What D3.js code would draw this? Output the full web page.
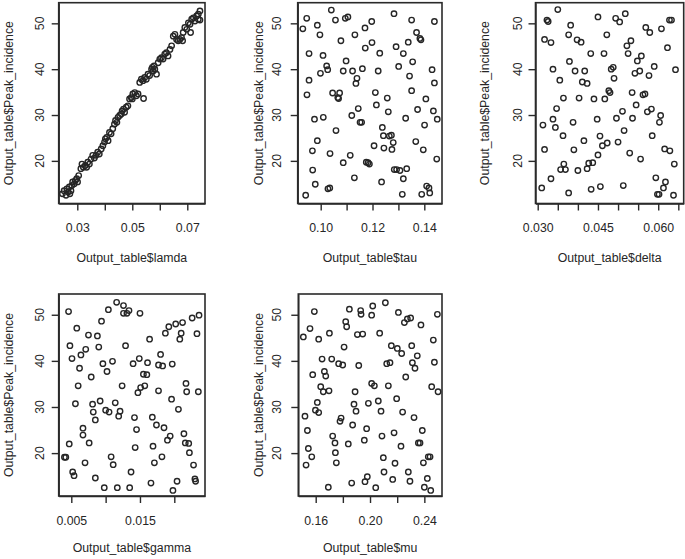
<!DOCTYPE html>
<html><head><meta charset="utf-8">
<script src="https://cdn.jsdelivr.net/npm/d3@7"></script>
<style>
body{margin:0;background:#fff}
svg{display:block}
text{font-family:"Liberation Sans",Arial,Helvetica,sans-serif;fill:#262626}
</style>
</head><body>
<svg id="chart" width="685" height="559"></svg>
<script>
// ---- data ----
const yLabel = "Output_table$Peak_incidence";
const yTicks = [20, 30, 40, 50];
const yDomain = [10.7, 54.5];

const lamdaPts = [[0.0246,12.8],[0.0252,13.5],[0.0259,12.5],[0.0262,13.9],[0.0267,13.2],[0.0271,14.3],[0.0273,12.8],[0.0277,13.5],[0.0280,14.6],[0.0283,15.4],
[0.0289,15.0],[0.0293,15.7],[0.0298,16.1],[0.0301,15.4],[0.0305,16.8],[0.0313,18.3],[0.0317,19.3],[0.0322,18.6],[0.0329,19.0],[0.0334,18.6],
[0.0338,19.7],[0.0344,19.3],[0.0350,20.4],[0.0356,21.2],[0.0362,20.6],[0.0368,21.2],[0.0374,21.9],[0.0380,21.5],[0.0387,22.6],[0.0393,23.3],
[0.0399,24.1],[0.0402,24.8],[0.0407,25.1],[0.0412,24.4],[0.0417,26.2],[0.0423,25.9],[0.0429,27.0],[0.0435,28.0],[0.0439,28.8],[0.0444,28.4],
[0.0448,29.5],[0.0454,29.9],[0.0460,30.2],[0.0463,30.9],[0.0468,31.3],[0.0472,30.6],[0.0478,31.7],[0.0484,32.0],[0.0490,33.5],[0.0496,33.8],
[0.0500,33.5],[0.0502,34.6],[0.0509,34.9],[0.0515,34.2],[0.0521,34.6],[0.0527,37.1],[0.0533,37.8],[0.0539,37.5],[0.0541,33.6],[0.0545,38.2],
[0.0551,37.8],[0.0557,38.9],[0.0563,38.6],[0.0570,40.0],[0.0573,40.4],[0.0576,39.6],[0.0579,40.7],[0.0582,40.0],[0.0588,38.9],[0.0594,41.4],
[0.0600,42.2],[0.0606,42.5],[0.0612,42.2],[0.0618,43.3],[0.0624,43.6],[0.0630,42.9],[0.0637,44.3],[0.0643,45.1],[0.0649,47.2],[0.0655,47.6],
[0.0661,46.5],[0.0667,46.2],[0.0673,46.5],[0.0679,46.9],[0.0683,46.2],[0.0685,48.0],[0.0691,49.1],[0.0698,48.7],[0.0704,50.1],[0.0710,49.8],
[0.0712,48.0],[0.0716,50.9],[0.0722,51.2],[0.0728,50.5],[0.0734,51.6],[0.0740,52.0],[0.0746,52.7],[0.0740,50.9],[0.0746,50.7]];

const tauPts = [[0.0931,48.8],[0.0946,51.1],[0.0955,43.4],[0.0955,37.6],[0.0947,34.4],[0.0987,49.6],[0.0997,47.5],[0.1009,43.0],[0.0999,39.1],[0.1023,40.7],
[0.1027,39.9],[0.1041,52.9],[0.1057,50.7],[0.1095,51.1],[0.1105,51.4],[0.1078,46.2],[0.1098,41.8],[0.1087,39.6],[0.1123,39.6],[0.1140,38.0],
[0.1136,36.9],[0.1132,47.5],[0.1171,49.0],[0.1172,44.6],[0.1197,50.4],[0.1198,45.8],[0.1161,40.1],[0.1222,39.6],[0.1228,43.5],[0.1283,52.1],
[0.1291,44.9],[0.1301,40.6],[0.1319,43.4],[0.1338,45.9],[0.1351,50.7],[0.1370,48.0],[0.1383,46.7],[0.1387,46.4],[0.1355,41.6],[0.1343,38.5],
[0.1439,50.4],[0.1430,39.9],[0.1439,37.0],[0.0976,29.1],[0.1010,29.5],[0.0987,24.4],[0.0968,22.2],[0.0969,18.0],[0.0979,14.9],[0.0942,12.5],
[0.1028,13.9],[0.1035,14.1],[0.1036,21.6],[0.1046,34.8],[0.1069,33.6],[0.1073,34.8],[0.1066,33.8],[0.1059,26.6],[0.1087,19.6],[0.1114,21.2],
[0.1120,29.9],[0.1130,16.3],[0.1145,31.4],[0.1152,28.4],[0.1158,28.4],[0.1176,19.7],[0.1183,19.6],[0.1188,19.3],[0.1206,23.3],[0.1211,34.9],
[0.1215,32.2],[0.1235,15.4],[0.1238,27.3],[0.1242,25.5],[0.1244,22.8],[0.1257,33.7],[0.1261,30.7],[0.1265,25.4],[0.1273,25.6],[0.1275,22.5],
[0.1280,24.0],[0.1284,18.1],[0.1293,18.1],[0.1306,17.9],[0.1315,12.7],[0.1319,16.1],[0.1332,18.3],[0.1328,29.3],[0.1351,35.3],[0.1367,24.2],
[0.1374,31.2],[0.1390,12.7],[0.1396,22.4],[0.1401,27.8],[0.1406,33.5],[0.1409,14.5],[0.1418,14.1],[0.1421,13.0],[0.1435,30.9],[0.1450,29.1],[0.1448,20.4]];

const deltaPts = [[0.0310,14.1],[0.0313,27.8],[0.0317,22.5],[0.0317,46.5],[0.0323,50.7],[0.0326,50.4],[0.0333,45.8],[0.0333,16.1],[0.0338,40.0],[0.0338,29.1],
[0.0344,27.3],[0.0347,31.4],[0.0350,53.0],[0.0355,37.6],[0.0357,18.1],[0.0363,25.5],[0.0364,33.7],[0.0365,19.3],[0.0369,18.1],[0.0377,13.0],
[0.0377,47.5],[0.0382,49.6],[0.0379,41.7],[0.0388,28.4],[0.0390,22.4],[0.0393,39.6],[0.0398,46.4],[0.0400,17.9],[0.0403,33.7],[0.0408,45.9],
[0.0411,37.2],[0.0415,24.4],[0.0417,39.6],[0.0423,36.9],[0.0423,18.3],[0.0427,19.5],[0.0432,43.4],[0.0433,13.8],[0.0437,19.6],[0.0440,33.5],
[0.0448,29.1],[0.0450,51.4],[0.0450,21.3],[0.0455,25.4],[0.0456,14.4],[0.0461,23.3],[0.0465,43.4],[0.0467,33.5],[0.0472,47.5],[0.0473,23.9],
[0.0477,35.3],[0.0480,34.9],[0.0483,40.0],[0.0488,40.4],[0.0490,38.0],[0.0494,51.1],[0.0496,29.3],[0.0500,24.1],[0.0504,50.3],[0.0511,30.8],
[0.0513,14.6],[0.0515,26.6],[0.0518,52.1],[0.0522,45.1],[0.0525,43.4],[0.0532,46.2],[0.0529,21.7],[0.0535,34.9],[0.0536,29.3],[0.0542,39.1],
[0.0545,32.2],[0.0548,41.8],[0.0554,39.6],[0.0556,20.4],[0.0558,42.9],[0.0562,34.4],[0.0567,34.6],[0.0569,49.1],[0.0573,30.7],[0.0577,38.6],
[0.0579,48.0],[0.0583,31.3],[0.0585,25.5],[0.0590,40.6],[0.0594,16.3],[0.0598,12.7],[0.0602,12.7],[0.0603,28.4],[0.0606,29.9],[0.0608,48.8],
[0.0613,14.1],[0.0618,15.4],[0.0616,22.6],[0.0623,44.7],[0.0628,50.7],[0.0633,50.7],[0.0629,22.2],[0.0638,12.5],[0.0640,19.3],[0.0643,39.9]];

const gammaPts = [[0.0040,19.1],[0.0042,19.1],[0.0046,50.7],[0.0047,22.0],[0.0048,43.3],[0.0051,40.5],[0.0052,15.9],[0.0054,15.1],[0.0056,30.7],[0.0058,47.1],
[0.0060,34.6],[0.0062,38.4],[0.0064,41.3],[0.0067,25.4],[0.0067,23.9],[0.0071,42.5],[0.0070,17.9],[0.0075,45.6],[0.0076,22.2],[0.0079,36.5],
[0.0081,30.6],[0.0082,28.9],[0.0085,14.6],[0.0085,27.2],[0.0088,45.4],[0.0090,43.0],[0.0092,31.3],[0.0094,48.6],[0.0096,39.4],[0.0098,12.5],
[0.0100,29.3],[0.0102,37.7],[0.0104,51.1],[0.0105,28.9],[0.0108,19.2],[0.0110,39.9],[0.0111,17.5],[0.0114,30.9],[0.0116,52.7],[0.0117,12.5],
[0.0119,28.0],[0.0121,29.1],[0.0124,34.6],[0.0126,52.0],[0.0126,50.3],[0.0129,43.3],[0.0131,50.3],[0.0134,50.9],[0.0135,12.5],[0.0137,15.9],
[0.0140,39.4],[0.0142,27.7],[0.0143,21.2],[0.0145,25.1],[0.0147,33.1],[0.0149,40.5],[0.0150,50.3],[0.0151,34.2],[0.0155,37.1],[0.0157,34.6],
[0.0160,37.0],[0.0161,39.6],[0.0164,44.7],[0.0166,13.5],[0.0168,27.8],[0.0169,21.5],[0.0171,17.9],[0.0174,26.1],[0.0177,33.5],[0.0177,39.1],
[0.0180,41.4],[0.0182,19.2],[0.0183,38.9],[0.0185,25.5],[0.0187,46.0],[0.0190,22.8],[0.0192,47.4],[0.0194,23.7],[0.0196,31.7],[0.0197,39.3],
[0.0198,11.9],[0.0202,48.0],[0.0204,13.9],[0.0206,29.5],[0.0208,44.7],[0.0210,46.0],[0.0212,48.3],[0.0214,24.2],[0.0216,22.2],[0.0217,35.1],
[0.0218,33.3],[0.0221,22.1],[0.0222,20.1],[0.0226,49.3],[0.0228,17.4],[0.0230,14.4],[0.0231,13.9],[0.0233,45.9],[0.0235,33.3],[0.0236,49.9]];

const muPts = [[0.1509,45.2],[0.1521,28.0],[0.1539,24.9],[0.1546,21.0],[0.1529,17.4],[0.1571,19.2],[0.1558,47.0],[0.1578,37.0],[0.1590,50.7],[0.1598,29.3],
[0.1612,31.0],[0.1622,28.8],[0.1622,44.7],[0.1637,34.4],[0.1647,40.4],[0.1656,33.3],[0.1664,37.7],[0.1674,36.7],[0.1693,12.6],[0.1698,33.5],
[0.1701,46.0],[0.1718,40.4],[0.1725,23.7],[0.1742,22.2],[0.1745,20.1],[0.1752,17.9],[0.1769,39.4],[0.1779,26.9],[0.1787,27.6],[0.1799,39.1],
[0.1809,43.0],[0.1821,48.5],[0.1828,47.4],[0.1840,22.0],[0.1848,51.2],[0.1872,26.1],[0.1865,13.5],[0.1882,30.6],[0.1890,33.3],[0.1897,29.1],
[0.1907,45.7],[0.1917,39.0],[0.1931,50.9],[0.1934,50.1],[0.1946,45.8],[0.1958,22.8],[0.1963,13.8],[0.1975,25.3],[0.1980,14.9],[0.1988,30.8],
[0.2012,49.9],[0.2020,51.9],[0.2012,35.1],[0.2032,34.6],[0.2042,12.5],[0.2061,31.3],[0.2071,46.0],[0.2081,29.1],[0.2088,23.7],[0.2098,19.0],
[0.2103,15.9],[0.2113,52.6],[0.2123,39.4],[0.2135,34.6],[0.2147,39.6],[0.2157,43.3],[0.2167,14.3],[0.2177,24.4],[0.2184,17.8],[0.2196,31.8],
[0.2201,42.7],[0.2209,50.5],[0.2228,21.5],[0.2233,41.6],[0.2240,28.9],[0.2253,48.3],[0.2263,36.5],[0.2275,49.1],[0.2282,15.9],[0.2294,13.9],
[0.2299,49.3],[0.2307,43.3],[0.2312,39.6],[0.2324,27.7],[0.2331,38.4],[0.2348,41.1],[0.2356,22.2],[0.2368,22.2],[0.2375,47.8],[0.2385,24.9],
[0.2393,17.9],[0.2400,12.6],[0.2422,14.5],[0.2429,19.2],[0.2442,19.2],[0.2447,11.9],[0.2454,34.4],[0.2466,44.5],[0.2474,39.7],[0.2496,50.1],[0.2501,33.3]];

const xLabels = ["Output_table$lamda","Output_table$tau","Output_table$delta","Output_table$gamma","Output_table$mu"];
const xDomains = [[0.02324,0.07644],[0.09112,0.14683],[0.02945,0.06634],[0.003165,0.02447],[0.14719,0.2530]];
const xTickVals = [[0.03,0.04,0.05,0.06,0.07],[0.10,0.11,0.12,0.13,0.14],[0.030,0.035,0.040,0.045,0.050,0.055,0.060,0.065],[0.005,0.010,0.015,0.020],[0.16,0.18,0.20,0.22,0.24]];
const xTickLabels = [[0.03,0.05,0.07],[0.10,0.12,0.14],[0.030,0.045,0.060],[0.005,0.015],[0.16,0.20,0.24]];
const xFormats = [".2f",".2f",".3f",".3f",".2f"];
const pointSets = [lamdaPts, tauPts, deltaPts, gammaPts, muPts];

// ---- layout ----
const boxes = [
  {l:58.7, t:2.7, r:205, b:203.5, ylab:8.5, ytick:40, xlabDy:58.5},
  {l:297.7, t:2.7, r:442, b:203.5, ylab:258.3, ytick:277, xlabDy:58.5},
  {l:535.5, t:2.7, r:683.7, b:203.5, ylab:485, ytick:517.5, xlabDy:58.5},
  {l:58.7, t:294, r:205, b:496, ylab:8.5, ytick:40, xlabDy:56},
  {l:298.3, t:294, r:442, b:496, ylab:258.3, ytick:277, xlabDy:56}
];
const FS = 12.3, INK = "#2a2a2a", TICK = 7;

const svg = d3.select("#chart");

pointSets.forEach((pts, i) => {
  const bx = boxes[i];
  const x = d3.scaleLinear().domain(xDomains[i]).range([bx.l, bx.r]);
  const y = d3.scaleLinear().domain(yDomain).range([bx.b, bx.t]);
  const g = svg.append("g");
  const fmt = d3.format(xFormats[i]);
  const labelSet = xTickLabels[i];

  // x axis
  const xa = g.append("g").attr("transform", `translate(0,${bx.b})`)
    .call(d3.axisBottom(x).tickValues(xTickVals[i]).tickSize(TICK).tickSizeOuter(0).tickPadding(12.8)
      .tickFormat(d => labelSet.some(v => Math.abs(v - d) < 1e-9) ? fmt(d) : ""));
  xa.selectAll("line").attr("stroke", INK).attr("stroke-width", 1.4);
  xa.select(".domain").attr("stroke", INK).attr("stroke-width", 1.4);
  xa.selectAll("text").attr("font-size", FS).attr("fill", "#262626").style("font-family", '"Liberation Sans",Arial,sans-serif');

  // y axis
  const ya = g.append("g").attr("transform", `translate(${bx.l},0)`)
    .call(d3.axisLeft(y).tickValues(yTicks).tickSize(TICK).tickSizeOuter(0).tickFormat(""));
  ya.selectAll("line").attr("stroke", INK).attr("stroke-width", 1.4);
  ya.select(".domain").attr("stroke", INK).attr("stroke-width", 1.4);
  g.selectAll("text.ytl").data(yTicks).join("text").attr("class", "ytl")
    .attr("transform", d => `translate(${bx.ytick},${y(d)}) rotate(-90)`)
    .attr("text-anchor", "middle").attr("dy", "0.36em")
    .attr("font-size", FS).text(d => d);

  // box
  g.append("rect").attr("x", bx.l).attr("y", bx.t).attr("width", bx.r - bx.l).attr("height", bx.b - bx.t)
    .attr("fill", "none").attr("stroke", INK).attr("stroke-width", 1.6);

  // points
  g.selectAll("circle").data(pts).join("circle")
    .attr("cx", d => x(d[0])).attr("cy", d => y(d[1])).attr("r", 2.7)
    .attr("fill", "none").attr("stroke", "#262626").attr("stroke-width", 1.4);

  // labels
  g.append("text").attr("x", (bx.l + bx.r) / 2).attr("y", bx.b + bx.xlabDy)
    .attr("text-anchor", "middle").attr("font-size", FS).text(xLabels[i]);
  g.append("text").attr("transform", `translate(${bx.ylab},${(bx.t + bx.b) / 2}) rotate(-90)`)
    .attr("text-anchor", "middle").attr("dy", "0.36em").attr("font-size", FS).text(yLabel);
});
</script>
</body></html>
